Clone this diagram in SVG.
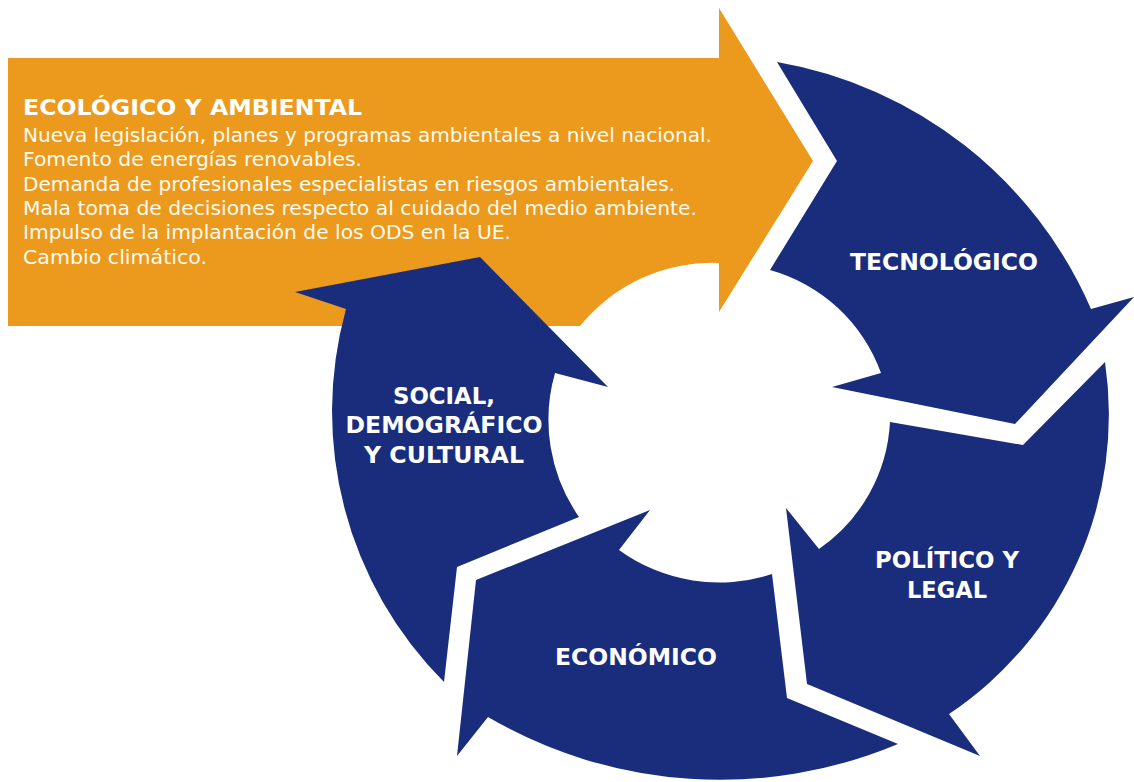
<svg xmlns="http://www.w3.org/2000/svg" width="1134" height="782" viewBox="0 0 1134 782">
<style>
.orange{fill:#EB9A1D}
.blue{fill:#192D7C}
.lbl{font-family:"DejaVu Sans","Liberation Sans",sans-serif;font-weight:bold;font-size:23px;fill:#ffffff;text-anchor:middle}
.ttl{font-family:"DejaVu Sans","Liberation Sans",sans-serif;font-weight:bold;font-size:22px;fill:#ffffff}
.body{font-family:"DejaVu Sans","Liberation Sans",sans-serif;font-size:19px;fill:#fffaf0}
</style>
<rect width="1134" height="782" fill="#ffffff"/>
<g id="ecologico">
<path class="orange" d="M8,58 H719 V8 L813,161 L719,312 V263 A170,170 0 0 0 580,326 H8 Z"/>
<text class="ttl" x="23" y="115" textLength="339" lengthAdjust="spacingAndGlyphs">ECOLÓGICO Y AMBIENTAL</text>
<text class="body" x="23" y="142" textLength="689" lengthAdjust="spacingAndGlyphs">Nueva legislación, planes y programas ambientales a nivel nacional.</text>
<text class="body" x="23" y="166" textLength="339" lengthAdjust="spacingAndGlyphs">Fomento de energías renovables.</text>
<text class="body" x="23" y="191" textLength="652" lengthAdjust="spacingAndGlyphs">Demanda de profesionales especialistas en riesgos ambientales.</text>
<text class="body" x="23" y="215" textLength="674" lengthAdjust="spacingAndGlyphs">Mala toma de decisiones respecto al cuidado del medio ambiente.</text>
<text class="body" x="23" y="239" textLength="488" lengthAdjust="spacingAndGlyphs">Impulso de la implantación de los ODS en la UE.</text>
<text class="body" x="23" y="264" textLength="184" lengthAdjust="spacingAndGlyphs">Cambio climático.</text>
</g>
<g id="tecnologico">
<path class="blue" d="M777,62 A420,420 0 0 1 1091,309 L1134,297 L1015,424 L832,387 L881,373 A165,165 0 0 0 770,270 L837,161 Z"/>
<text class="lbl" x="944" y="270" textLength="188" lengthAdjust="spacingAndGlyphs">TECNOLÓGICO</text>
</g>
<g id="politico">
<path class="blue" d="M1105,362 A360,360 0 0 1 949,714 L980,756 L807,684 L786,508 L819,549 A165,165 0 0 0 890,422 L1023,445 Z"/>
<text class="lbl" x="947" y="568" textLength="144" lengthAdjust="spacingAndGlyphs">POLÍTICO Y</text>
<text class="lbl" x="947" y="598" textLength="80" lengthAdjust="spacingAndGlyphs">LEGAL</text>
</g>
<g id="economico">
<path class="blue" d="M898,744 A460,460 0 0 1 488,717 L457,756 L476,580 L650,510 L619,550 A170,170 0 0 0 772,574 L787,698 Z"/>
<text class="lbl" x="636" y="665" textLength="162" lengthAdjust="spacingAndGlyphs">ECONÓMICO</text>
</g>
<g id="social">
<path class="blue" d="M444,682 A383,383 0 0 1 346,309 L295,292 L480,257 L608,387 L555,373 A170,170 0 0 0 579,517 L457,567 Z"/>
<text class="lbl" x="444" y="404" textLength="102" lengthAdjust="spacingAndGlyphs">SOCIAL,</text>
<text class="lbl" x="444" y="433" textLength="197" lengthAdjust="spacingAndGlyphs">DEMOGRÁFICO</text>
<text class="lbl" x="444" y="463" textLength="160" lengthAdjust="spacingAndGlyphs">Y CULTURAL</text>
</g>
<g id="connectors"/>
</svg>
